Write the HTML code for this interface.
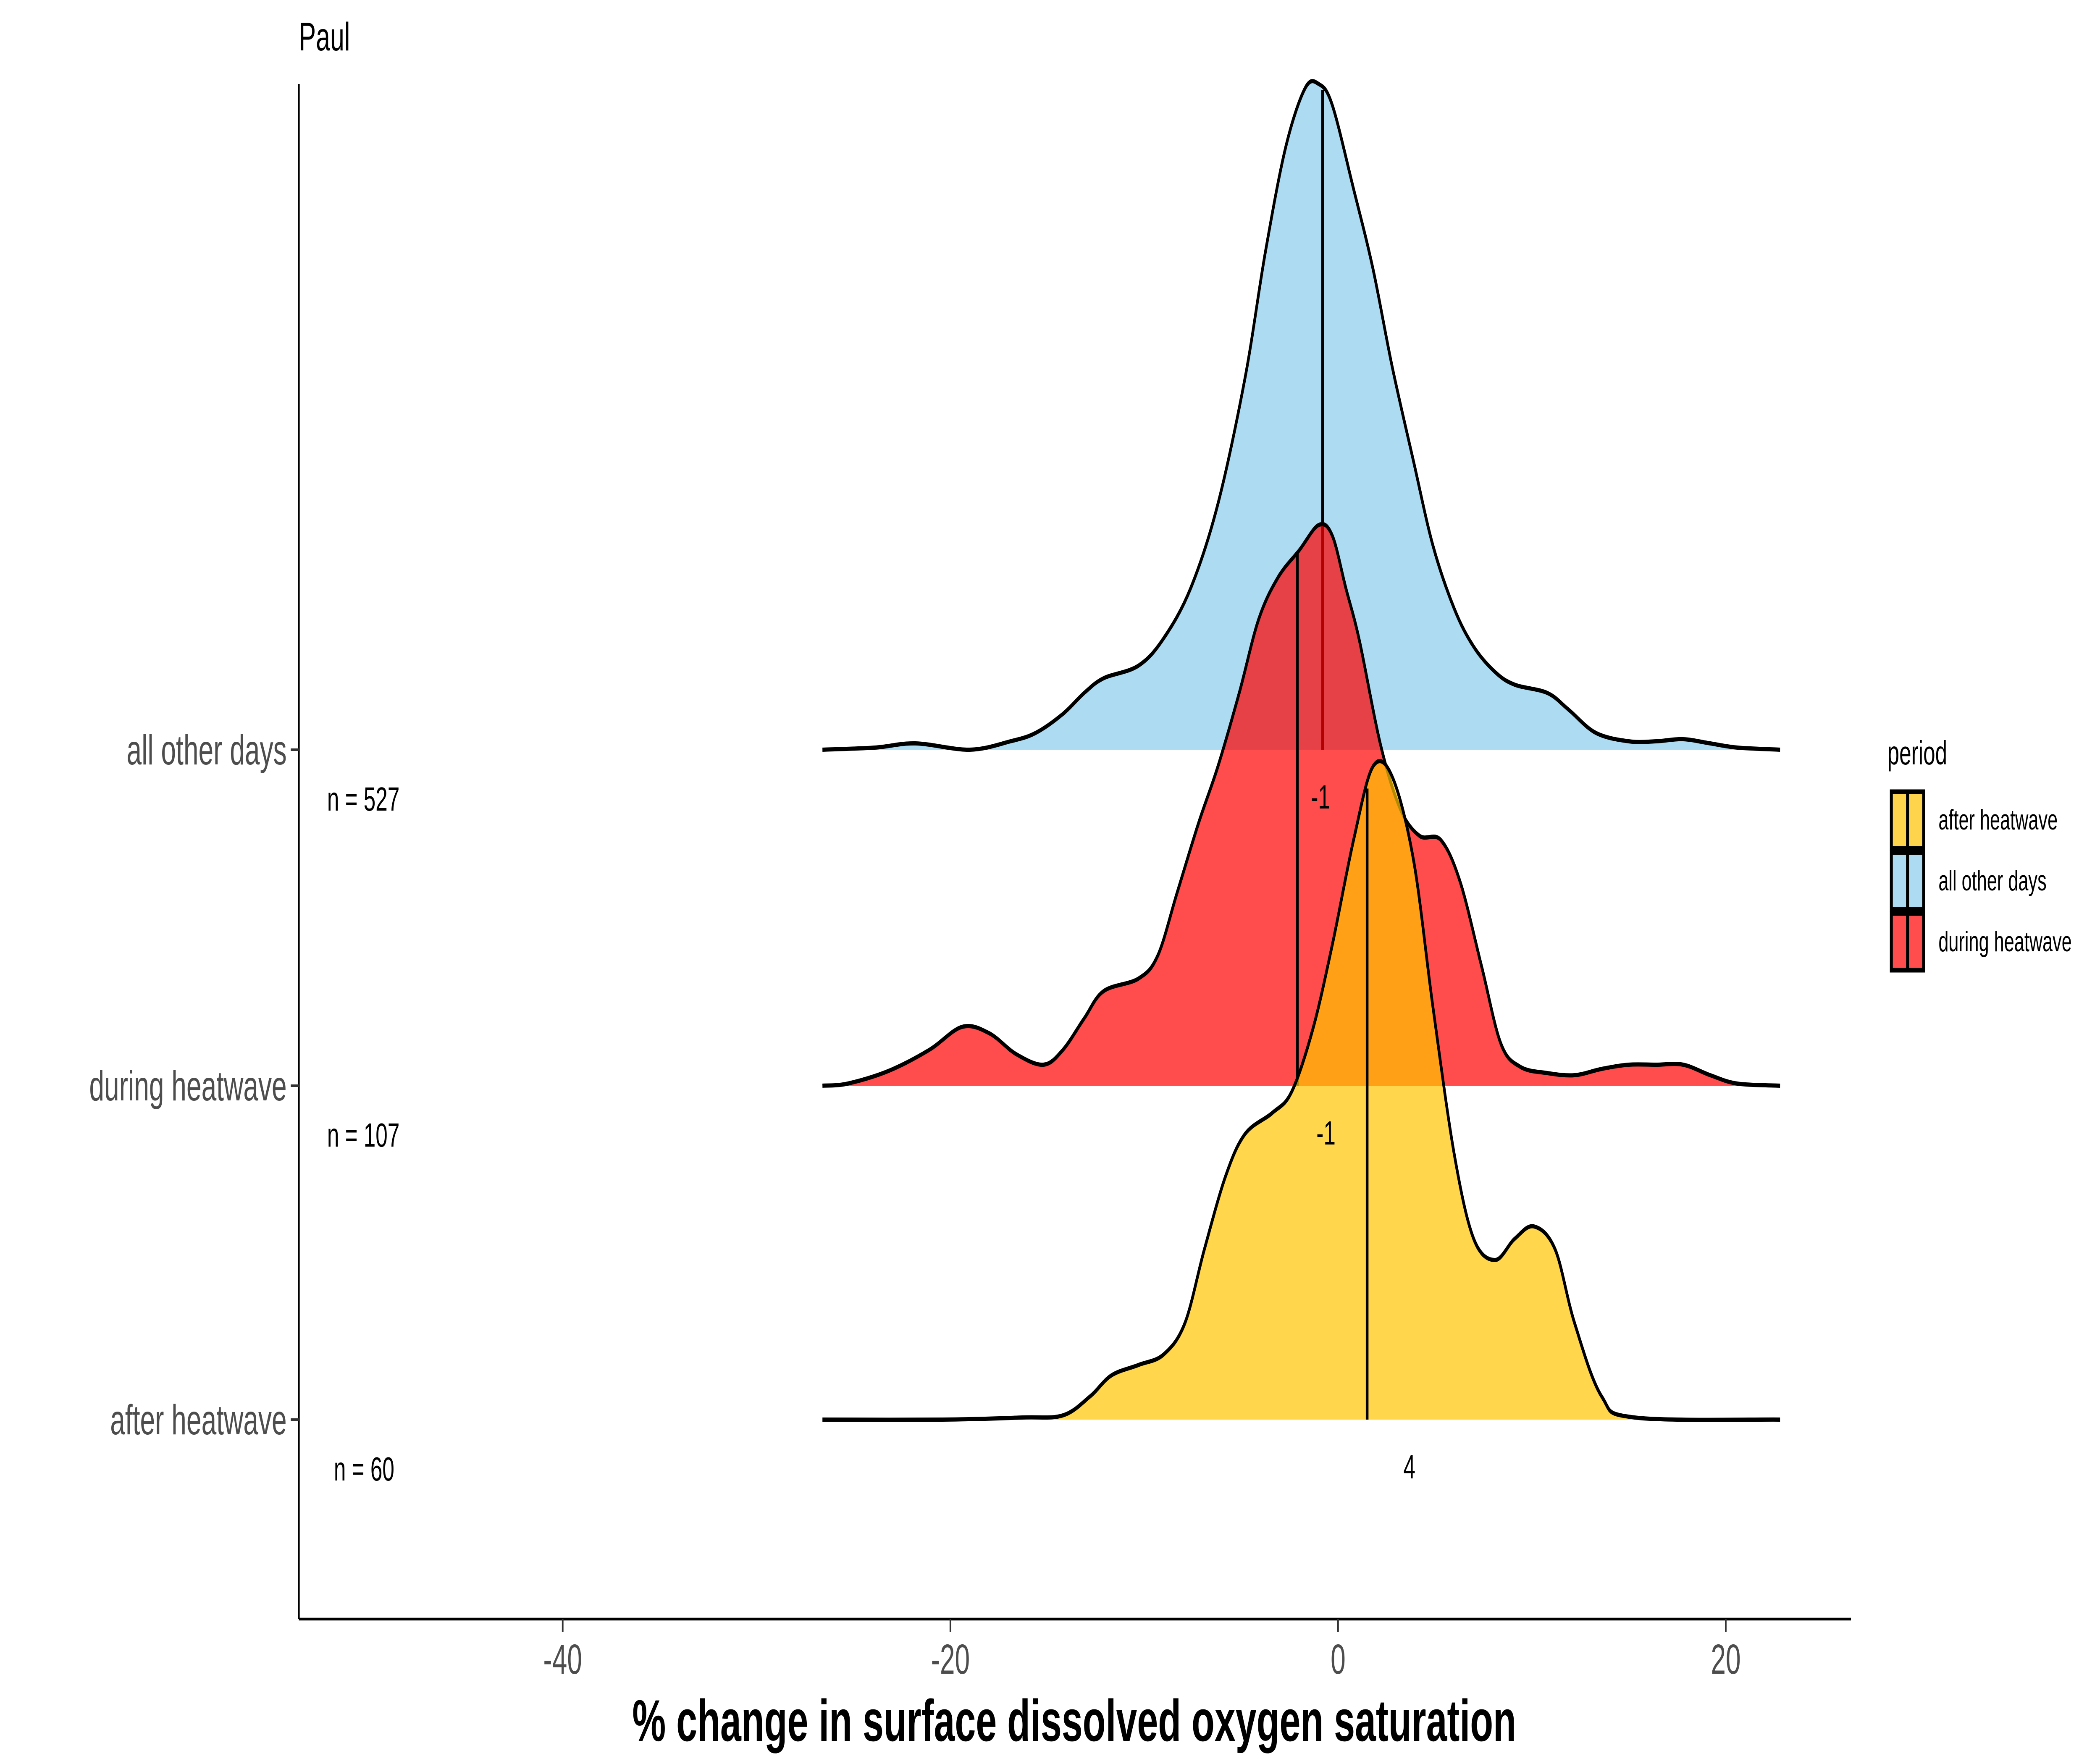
<!DOCTYPE html>
<html><head><meta charset="utf-8"><style>
html,body{margin:0;padding:0;background:#fff;width:100%;height:100%;overflow:hidden;}
svg{display:block;font-family:"Liberation Sans",Arial,sans-serif;width:100vw;height:100vh;}
</style></head><body>
<svg id="chart" viewBox="0 0 1560 840" preserveAspectRatio="none" xmlns="http://www.w3.org/2000/svg">
<rect width="1560" height="840" fill="#fff"/>
<g id="ridges"></g>
<g id="axes"></g>
<g id="legend"></g>
</svg>
<script>
const categories = ["all other days", "during heatwave", "after heatwave"];
const nCounts = ["n = 527", "n = 107", "n = 60"];
const medianLabels = ["-1", "-1", "4"];
const medians = [-0.8, -2.1, 1.5];
const xTicks = [-40, -20, 0, 20];
const blueX = [-26.6,-23.9,-21.8,-19.0,-16.9,-15.6,-14.2,-13.1,-12.1,-10.3,-9.0,-7.6,-6.2,-4.8,-3.75,-2.7,-1.7,-1.0,-0.3,0.8,1.8,2.8,3.9,4.9,6.0,7.0,8.1,9.1,10.8,11.9,13.3,15.0,16.4,17.8,19.2,20.6,22.8];
const blueD = [0,1,3,0,4,8,17,27,34,40,53,77,117,177,237,287,315,317,307,267,229,182,137,97,67,49,37,31,27,19,8,4,4,5,3,1,0];
const redX = [-26.6,-25.3,-23.2,-21.1,-19.4,-18.0,-16.6,-15.2,-14.2,-13.1,-12.1,-10.3,-9.3,-8.3,-7.2,-6.2,-5.1,-4.1,-3.1,-2.0,-1.0,-0.3,0.4,1.1,2.2,3.2,4.2,5.3,6.3,7.4,8.4,9.4,10.8,12.2,13.6,15.0,16.4,17.8,19.2,20.6,22.8];
const redD = [0,1,7,17,28,25,15,10,17,32,45,51,62,92,125,152,187,222,242,255,267,262,237,212,162,132,119,117,97,57,20,9,6,5,8,10,10,10,5,1,0];
const yellowX = [-26.6,-20.4,-16.3,-14.2,-12.8,-11.7,-10.3,-9.0,-7.9,-6.9,-5.8,-4.8,-3.4,-2.4,-1.3,-0.3,0.8,1.8,2.8,3.9,4.9,6.0,7.0,8.1,9.1,10.1,11.2,12.2,13.6,15.3,22.8];
const yellowD = [0,0,1,2,11,21,26,31,46,81,116,136,146,156,186,226,276,311,306,266,196,126,86,76,86,92,81,46,11,1,0];

const NS = "http://www.w3.org/2000/svg";
const xs = v => 994 + 14.4 * v;
const baselines = [357, 517, 676];
const yd = (ci, d) => baselines[ci] - d;
function mk(tag, attrs, parent, txt){const e=document.createElementNS(NS,tag);for(const k in attrs)e.setAttribute(k,attrs[k]);if(txt!==undefined)e.textContent=txt;parent.appendChild(e);return e;}
function interp(X,D,v){for(let i=0;i<X.length-1;i++){if(v>=X[i]&&v<=X[i+1]){const t=(v-X[i])/(X[i+1]-X[i]);return D[i]+t*(D[i+1]-D[i]);}}return 0;}
function smoothPath(pts){let d="M"+pts[0][0]+","+pts[0][1];for(let i=0;i<pts.length-1;i++){const p0=pts[i-1]||pts[i],p1=pts[i],p2=pts[i+1],p3=pts[i+2]||p2;const c1=[p1[0]+(p2[0]-p0[0])/6,p1[1]+(p2[1]-p0[1])/6],c2=[p2[0]-(p3[0]-p1[0])/6,p2[1]-(p3[1]-p1[1])/6];d+=" C"+c1[0].toFixed(2)+","+c1[1].toFixed(2)+" "+c2[0].toFixed(2)+","+c2[1].toFixed(2)+" "+p2[0].toFixed(2)+","+p2[1].toFixed(2);}return d;}

const series = [[blueX,blueD,"#ADDBF2",1,"ridge-all-other-days"],[redX,redD,"#FF0000",0.7,"ridge-during-heatwave"],[yellowX,yellowD,"#FFC400",0.7,"ridge-after-heatwave"]];
const ridges = document.getElementById("ridges");
series.forEach((s,ci)=>{
  const pts = s[0].map((x,i)=>[xs(x), yd(ci,s[1][i])]);
  const line = smoothPath(pts);
  const fillD = line+" L"+xs(s[0][s[0].length-1])+","+baselines[ci]+" L"+xs(s[0][0])+","+baselines[ci]+" Z";
  const g = mk("g",{},ridges);
  
  
  const f = mk("path",{d:fillD,fill:s[2],"fill-opacity":s[3],stroke:"none"},g);
  
  
  const mx = xs(medians[ci]);
  const mh = interp(s[0],s[1],medians[ci]);
  const m = mk("line",{x1:mx,x2:mx,y1:baselines[ci],y2:yd(ci,mh),stroke:"#000","stroke-width":2},g);
  
  
  const o = mk("path",{d:line,fill:"none",stroke:"#000","stroke-width":2},g);
  
  
});

const axes = document.getElementById("axes");
const yl = mk("line",{x1:222,x2:222,y1:40,y2:771,stroke:"#000","stroke-width":1.3},axes);


const xl = mk("line",{x1:222,x2:1375,y1:771,y2:771,stroke:"#000","stroke-width":1.3},axes);


xTicks.forEach(t=>{
  const tk = mk("line",{x1:xs(t),x2:xs(t),y1:771,y2:777,stroke:"#333","stroke-width":1.2},axes);
  
  
  const tl = mk("text",{x:xs(t),y:797,"text-anchor":"middle","font-size":20,fill:"#4d4d4d"},axes,String(t));
  
  
});
const medPos = [[981,385],[985,545],[1047,704]];
categories.forEach((c,i)=>{
  const tk = mk("line",{x1:216,x2:222,y1:baselines[i],y2:baselines[i],stroke:"#333","stroke-width":1.2},axes);
  
  
  const tl = mk("text",{x:213,y:baselines[i]+7,"text-anchor":"end","font-size":20,fill:"#4d4d4d"},axes,c);
  
  
  const n = mk("text",{x:i==2?248:243,y:baselines[i]+29,"font-size":16,fill:"#000"},axes,nCounts[i]);
  
  
  const ml = mk("text",{x:medPos[i][0],y:medPos[i][1],"text-anchor":"middle","font-size":16,fill:"#000"},axes,medianLabels[i]);
  
  
});
const xt = mk("text",{x:798,y:829,"text-anchor":"middle","font-size":28,"font-weight":"bold",fill:"#000"},axes,"% change in surface dissolved oxygen saturation");


const pt = mk("text",{x:222,y:24,"font-size":19,fill:"#000"},axes,"Paul");



const legend = document.getElementById("legend");
const lt = mk("text",{x:1402,y:364,"font-size":16,fill:"#000"},legend,"period");


const legNames = ["after heatwave","all other days","during heatwave"];
const legCols = ["#FDD44C","#ADDBF2","#FF4D4D"];
legNames.forEach((nm,i)=>{
  const y0 = 376 + i*29;
  const g = mk("g",{},legend);
  
  
  mk("rect",{x:1405,y:y0+1,width:24,height:27,fill:legCols[i],stroke:"#000","stroke-width":2.2},g);
  mk("line",{x1:1417,x2:1417,y1:y0+1,y2:y0+28,stroke:"#000","stroke-width":2.2},g);
  mk("text",{x:1440,y:y0+19,"font-size":13.5,fill:"#000"},g,nm);
});
</script>
</body></html>
